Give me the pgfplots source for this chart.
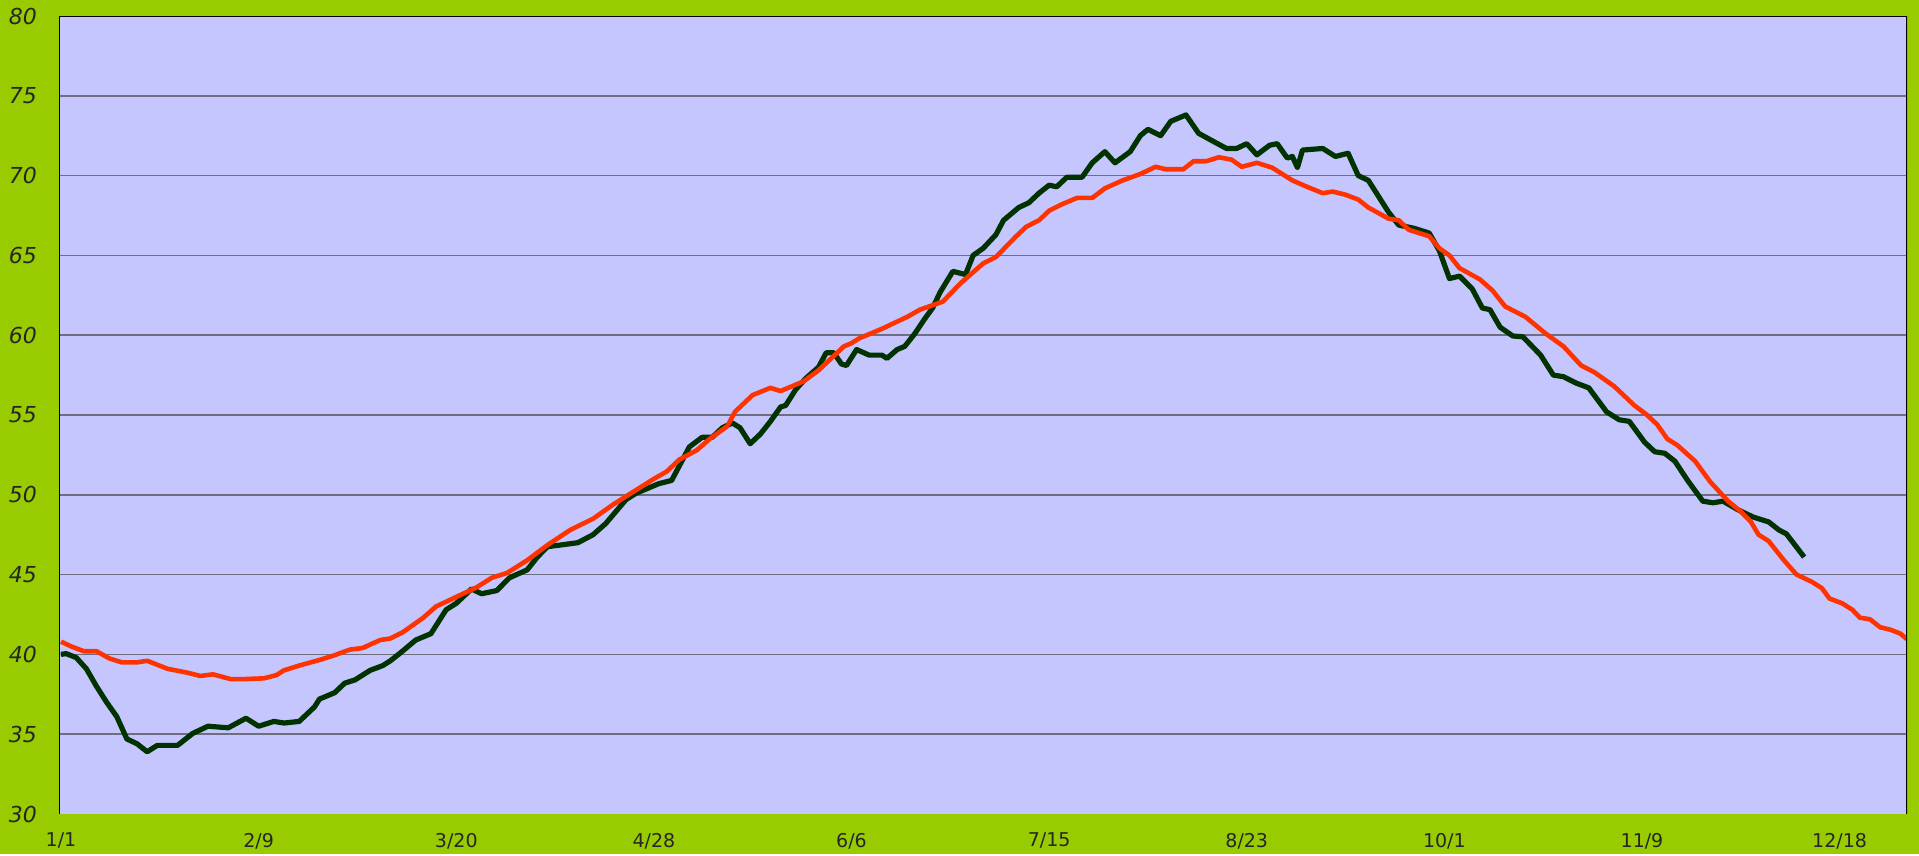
\documentclass[border=0pt]{standalone}
\usepackage{pgfplots}
\pgfplotsset{compat=1.18}
\usepackage{fontspec}
\setmainfont{DejaVu Sans}
\definecolor{bggreen}{HTML}{99CC00}
\definecolor{plotbg}{HTML}{C6C6FF}
\definecolor{gridgray}{HTML}{6E6E80}
\definecolor{darkline}{HTML}{003300}
\definecolor{redline}{HTML}{FF3300}
\begin{document}
\begin{tikzpicture}
\fill[bggreen] (-29.5pt,-20pt) rectangle (930pt,407pt);
\begin{axis}[
  at={(0,0)}, anchor=south west,
  scale only axis, width=924pt, height=399pt,
  xmin=0.6, xmax=365.3, ymin=30, ymax=80,
  axis background/.style={fill=plotbg},
  axis line style={draw=none},
  xtick={1,40,79,118,157,196,235,274,313,352},
  xticklabels={1/1,2/9,3/20,4/28,6/6,7/15,8/23,10/1,11/9,12/18},
  ytick={35,40,...,75},
  extra y ticks={30,80},
  extra y tick style={grid=none},
  ymajorgrids,
  grid style={color=gridgray, line width=0.75pt},
  major tick length=0pt,
  tick label style={font=\fontsize{9.5}{11}\selectfont, text=black!85},
  yticklabel style={font=\fontsize{11}{13}\selectfont\itshape, xshift=-7.5pt},
  xticklabel style={yshift=-6pt},
  /pgf/number format/assume math mode=true,
  clip=true,
]
\addplot[darkline, line width=2.6pt, line join=round] coordinates {
(1,40.0)(2,40.05)(4,39.8)(6,39.1)(8,38.0)(10,37.0)(12,36.1)(14,34.7)(16,34.4)(18,33.9)
(20,34.3)(24,34.3)(27,35.05)(30,35.5)(34,35.4)(37.5,36.0)(40,35.5)(43,35.8)(45,35.7)(48,35.8)
(51,36.7)(52,37.2)(55,37.6)(57,38.2)(59,38.4)(62,39.0)(64.5,39.3)(66,39.6)(68,40.1)(71,40.9)
(74,41.3)(77,42.8)(79,43.2)(82,44.1)(84,43.8)(87,44.0)(89.5,44.8)(93,45.3)(95,46.1)(97,46.75)
(99.5,46.85)(103,47.0)(106,47.5)(108.5,48.2)(112.5,49.7)(114.5,50.1)(119,50.7)(121.5,50.9)(123,51.8)(125,53.0)
(127.5,53.6)(129.5,53.6)(131.5,54.2)(133.5,54.5)(135,54.2)(137,53.2)(139,53.8)(141,54.6)(143,55.5)(144,55.6)
(146,56.6)(148,57.3)(150.5,58.0)(152,58.9)(153.5,58.9)(155,58.2)(156,58.1)(158,59.1)(160.5,58.75)(163,58.75)
(164,58.55)(166,59.1)(167.5,59.3)(169.5,60.1)(171.5,61.05)(173,61.7)(174.5,62.7)(177,64.0)(179.5,63.8)(181,65.0)
(183,65.45)(185.5,66.3)(187,67.2)(188.5,67.6)(190,68.0)(192,68.3)(194,68.9)(196,69.4)(197.5,69.3)(199.5,69.9)
(202.5,69.9)(204.5,70.8)(207,71.5)(209,70.8)(212,71.5)(214,72.5)(215.5,72.9)(218,72.5)(220,73.4)(223,73.8)
(225.5,72.65)(227.5,72.3)(231,71.7)(233,71.7)(235,72.0)(237,71.3)(239.5,71.9)(241,72.0)(243,71.1)(244,71.2)
(245,70.5)(246,71.6)(250,71.7)(252.5,71.2)(255,71.4)(257,70.0)(259,69.7)(261,68.7)(263,67.7)(265,66.9)
(268,66.7)(271,66.4)(273,65.3)(275,63.55)(277,63.7)(279.5,62.9)(281.5,61.7)(283,61.6)(285,60.5)(287.5,59.95)
(289.5,59.9)(293,58.75)(295.5,57.5)(297.5,57.4)(300,57.0)(302.5,56.7)(306,55.2)(308.5,54.7)(310.5,54.6)(313.5,53.3)
(315.5,52.7)(317.5,52.6)(319.5,52.1)(322,50.9)(325,49.6)(327,49.5)(329,49.6)(332,49.05)(335,48.6)(338,48.3)
(340,47.8)(341.5,47.55)(345,46.1)
};
\addplot[redline, line width=2.3pt, line join=round] coordinates {
(1,40.8)(3,40.5)(5.5,40.2)(8,40.2)(10.5,39.75)(13,39.5)(16,39.5)(18,39.6)(22,39.1)(26,38.85)
(28.5,38.65)(31,38.75)(34.5,38.45)(37,38.45)(41,38.5)(43.5,38.7)(45,39.0)(48,39.3)(52,39.65)(55,39.95)
(58,40.3)(60.5,40.4)(64,40.9)(66,41.0)(68.5,41.4)(72.5,42.3)(75,43.0)(79,43.6)(83,44.2)(86,44.8)
(89,45.1)(93,45.9)(97,46.85)(101.5,47.8)(106,48.5)(110,49.4)(114,50.2)(118,51.0)(120.5,51.45)(123,52.2)
(126.5,52.8)(129,53.5)(132.5,54.3)(134,55.2)(137.5,56.25)(141,56.7)(143,56.5)(147.5,57.1)(150.5,57.8)(155.5,59.3)
(157,59.5)(158.5,59.8)(163,60.4)(168,61.15)(170.5,61.6)(175,62.1)(178.5,63.25)(183,64.5)(185.5,64.9)(189.5,66.2)
(191.5,66.8)(194,67.2)(196,67.8)(198.5,68.2)(201.5,68.6)(204.5,68.6)(207,69.2)(210.5,69.7)(214,70.1)(217,70.55)
(219,70.4)(222.5,70.4)(224.5,70.9)(227,70.9)(229.5,71.15)(232,71.0)(234,70.55)(237,70.8)(240,70.5)(244,69.7)
(246.5,69.35)(250,68.9)(252,69.0)(254.5,68.8)(257,68.5)(259,68.0)(263,67.3)(265,67.2)(267,66.6)(271,66.2)
(273,65.45)(275,65.0)(277,64.2)(281,63.5)(283.5,62.8)(286,61.8)(290,61.15)(294,60.1)(297.5,59.3)(301,58.1)
(303.5,57.7)(307.5,56.8)(310,56.05)(311.5,55.6)(314,55.0)(316,54.4)(318,53.5)(320,53.1)(323.5,52.1)(326.5,50.8)
(330,49.6)(332.5,48.95)(334.5,48.3)(336,47.5)(338,47.1)(341,45.9)(343.5,45.0)(346.5,44.55)(348.5,44.15)(350,43.5)
(352.5,43.2)(354.5,42.8)(356,42.3)(358,42.2)(360,41.7)(362,41.55)(364,41.3)(365.3,40.95)
};
\draw[black, line width=0.8pt] (rel axis cs:0,0) -- (rel axis cs:0,1) -- (rel axis cs:1,1) -- (rel axis cs:1,0);
\end{axis}
\end{tikzpicture}
\end{document}
